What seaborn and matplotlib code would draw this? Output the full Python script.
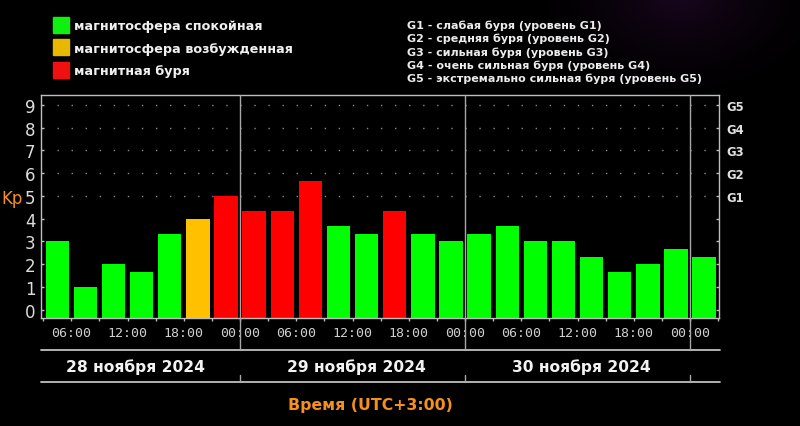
import numpy as np
import pandas as pd
import matplotlib
matplotlib.use("Agg")
import matplotlib.pyplot as plt
import matplotlib.transforms as mtransforms
from matplotlib.patches import Rectangle
import seaborn as sns

# ---------------- data ----------------
# centre of each 3-hour slot, hours counted from 28 Nov 2024 00:00 (UTC+3)
slot_hours = [4.5, 7.5, 10.5, 13.5, 16.5, 19.5, 22.5,
              25.5, 28.5, 31.5, 34.5, 37.5, 40.5, 43.5, 46.5,
              49.5, 52.5, 55.5, 58.5, 61.5, 64.5, 67.5, 70.5,
              73.5]
kp_values = [3.0, 1.0, 2.0, 1.67, 3.33, 4.0, 5.0,
             4.33, 4.33, 5.67, 3.67, 3.33, 4.33, 3.33, 3.0,
             3.33, 3.67, 3.0, 3.0, 2.33, 1.67, 2.0, 2.67,
             2.33]
status = ["calm", "calm", "calm", "calm", "calm", "excited", "storm",
          "storm", "storm", "storm", "calm", "calm", "storm", "calm", "calm",
          "calm", "calm", "calm", "calm", "calm", "calm", "calm", "calm",
          "calm"]
status_colors = {"calm": "#00ff00", "excited": "#ffc000", "storm": "#ff0000"}
legend_labels = ["магнитосфера спокойная", "магнитосфера возбужденная", "магнитная буря"]
legend_colors = ["#10f010", "#e8b800", "#f01010"]
g_legend = ["G1 - слабая буря (уровень G1)",
            "G2 - средняя буря (уровень G2)",
            "G3 - сильная буря (уровень G3)",
            "G4 - очень сильная буря (уровень G4)",
            "G5 - экстремально сильная буря (уровень G5)"]
g_labels = ["G1", "G2", "G3", "G4", "G5"]
kp_ticks = [0, 1, 2, 3, 4, 5, 6, 7, 8, 9]
time_ticks = [6, 12, 18, 24, 30, 36, 42, 48, 54, 60, 66, 72]
time_labels = ["06:00", "12:00", "18:00", "00:00", "06:00", "12:00",
               "18:00", "00:00", "06:00", "12:00", "18:00", "00:00"]
day_bounds = [24, 48, 72]
day_labels = ["28 ноября 2024", "29 ноября 2024", "30 ноября 2024"]
x_title = "Время (UTC+3:00)"
y_title = "Kp"

df = pd.DataFrame({"hour": slot_hours, "kp": kp_values, "status": status})

# ---------------- style ----------------
sns.set_theme(style="ticks", rc={
    "figure.facecolor": "black", "axes.facecolor": "black",
    "savefig.facecolor": "black", "axes.grid": False,
})
plt.rcParams["font.family"] = ["DejaVu Sans"]

W, H = 800, 427
fig = plt.figure(figsize=(8, 4.27), dpi=100)
fig.patch.set_facecolor("black")

# faint purple glow in the top right
bg = fig.add_axes([0, 0, 1, 1], zorder=-10)
bg.axis("off")
yy, xx = np.mgrid[0:H, 0:W]
d = np.hypot(xx - 680, (yy + 5) * 1.4)
a = np.clip(1 - d / 170, 0, 1) ** 1.8
img = np.zeros((H, W, 3))
img[..., 0] = 0.10 * a
img[..., 1] = 0.025 * a
img[..., 2] = 0.12 * a
bg.imshow(img, extent=[0, W, H, 0], aspect="auto")
bg.set_xlim(0, W)
bg.set_ylim(H, 0)

L, R, T, B = 41, 719, 96, 319
ax = fig.add_axes([L / W, 1 - B / H, (R - L) / W, (B - T) / H])
ax.set_facecolor("black")

YMIN, YMAX = -0.364, 9.43

# dotted G-level guides
ax.hlines([5, 6, 7, 8, 9], 4.5, 73.7, colors="#8a8a8a", linewidth=1.0,
          linestyles=[(0, (1, 9.125))], zorder=0.5)

sns.barplot(data=df, x="hour", y="kp", hue="status", palette=status_colors,
            native_scale=True, dodge=False, errorbar=None, width=0.83,
            linewidth=0, saturation=1, legend=False, ax=ax, zorder=2)

# bars in the reference start at the bottom frame line, not at Kp = 0
for p in ax.patches:
    top = p.get_y() + p.get_height()
    p.set_y(YMIN)
    p.set_height(top - YMIN)

ax.set_xlim(2.77, 75.09)
ax.set_ylim(YMIN, YMAX)
ax.set_xlabel("")
ax.set_ylabel("")
ax.grid(False)

spine_c = "#bdbdbd"
for s in ax.spines.values():
    s.set_visible(True)
    s.set_color(spine_c)
    s.set_linewidth(1.0)

ax.set_yticks(kp_ticks)
ax.set_yticklabels([str(v) for v in kp_ticks])
ax.tick_params(axis="y", direction="in", length=2.5, width=1, color=spine_c,
               labelcolor="#dcdcdc", labelsize=12, pad=4)

ax.set_xticks(time_ticks)
ax.set_xticklabels(time_labels)
ax.set_xticks(np.arange(3, 76, 3), minor=True)
ax.tick_params(axis="x", which="both", direction="out", length=2.5, width=1,
               color=spine_c, labelcolor="#d0d0d0", labelsize=9.5, pad=3)
for lbl in ax.get_xticklabels():
    lbl.set_fontfamily("DejaVu Sans Mono")

ax2 = ax.twinx()
ax2.set_ylim(ax.get_ylim())
ax2.set_yticks(kp_ticks)
ax2.set_yticklabels([""] * 5 + g_labels)
ax2.tick_params(axis="y", direction="in", length=2.5, width=1, color=spine_c,
                labelcolor="#e0e0e0", labelsize=8.4, pad=5)
for lbl in ax2.get_yticklabels():
    lbl.set_fontweight("bold")
for s in ax2.spines.values():
    s.set_visible(False)

# day separators
blend = mtransforms.blended_transform_factory(ax.transData, ax.transAxes)
ext_low = -(351 - B) / (B - T)
tick_a = -(376 - B) / (B - T)
tick_b = -(383 - B) / (B - T)
for xb in day_bounds:
    ax.plot([xb, xb], [1, ext_low], transform=blend, clip_on=False,
            color="#a8a8a8", lw=1.0, zorder=3)
    ax.plot([xb, xb], [tick_a, tick_b], transform=blend, clip_on=False,
            color="#a8a8a8", lw=1.0, zorder=3)
for yl in [351, 383]:
    yf = -(yl - B) / (B - T)
    ax.plot([0.0, 1.0015], [yf, yf], transform=ax.transAxes, clip_on=False,
            color="#c0c0c0", lw=1.3)

renderer = fig.canvas.get_renderer()


def fit_width(t, target):
    w = t.get_window_extent(renderer).width
    t.set_fontsize(t.get_fontsize() * target / w)
    return t.get_fontsize()


# day labels
day_centers = [135.5, 356.0, 581.7]
for cx, lab in zip(day_centers, day_labels):
    t = fig.text(cx / W, 1 - 372 / H, lab, ha="center", va="baseline",
                 color="#f2f2f2", fontweight="bold", fontsize=11)
    fit_width(t, 139)

# x title
t = fig.text(370 / W, 1 - 410 / H, x_title, ha="center", va="baseline",
             color="#f5901e", fontweight="bold", fontsize=11.5)
fit_width(t, 165)

# y title at the left edge
fig.text(1.5 / W, 1 - 199 / H, y_title, ha="left", va="center",
         color="#f5901e", fontsize=12)

# left legend
tops = [18, 40, 63]
baselines = [30, 52.5, 75]
texts = []
for tp, bl, lab, col in zip(tops, baselines, legend_labels, legend_colors):
    fig.patches.append(Rectangle((53 / W, 1 - (tp + 15.5) / H), 15.5 / W, 15.5 / H,
                                 transform=fig.transFigure, color=col))
    tt = fig.text(74 / W, 1 - bl / H, lab, ha="left", va="baseline",
                  color="#f0f0f0", fontweight="bold", fontsize=10)
    texts.append(tt)
size = fit_width(texts[1], 218)
for tt in texts:
    tt.set_fontsize(size)

# right legend (G levels)
g_base = [29.3, 42.4, 55.5, 68.6, 81.7]
gtexts = []
for bl, lab in zip(g_base, g_legend):
    tt = fig.text(407 / W, 1 - bl / H, lab, ha="left", va="baseline",
                  color="#ececec", fontweight="bold", fontsize=8)
    gtexts.append(tt)
gsize = fit_width(gtexts[4], 295)
for tt in gtexts:
    tt.set_fontsize(gsize)

fig.savefig("out.png", dpi=100, facecolor="black")
